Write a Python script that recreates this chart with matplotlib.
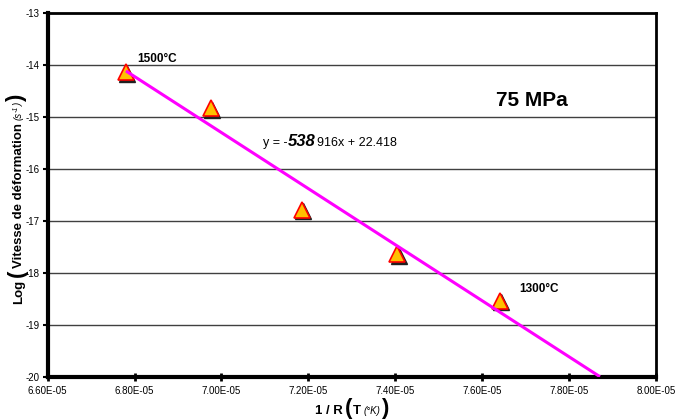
import matplotlib
matplotlib.use("Agg")
import matplotlib.pyplot as plt
import matplotlib.transforms as mtransforms

plt.rcParams['font.family'] = ['Liberation Sans', 'DejaVu Sans']

# ---- data ----
x_vals = [6.78e-5, 6.976e-5, 7.185e-5, 7.405e-5, 7.641e-5]
y_vals = [-14.14, -14.83, -16.79, -17.64, -18.54]
fit_slope = -538916
fit_intercept = 22.418
fit_x = [6.78e-5, 7.871e-5]
x_ticks = [6.6e-5, 6.8e-5, 7.0e-5, 7.2e-5, 7.4e-5, 7.6e-5, 7.8e-5, 8.0e-5]
x_tick_labels = ['6.60E-05', '6.80E-05', '7.00E-05', '7.20E-05',
                 '7.40E-05', '7.60E-05', '7.80E-05', '8.00E-05']
y_ticks = [-13, -14, -15, -16, -17, -18, -19, -20]
y_tick_labels = ['-13', '-14', '-15', '-16', '-17', '-18', '-19', '-20']

W, H = 675, 419
fig = plt.figure(figsize=(W / 100, H / 100), dpi=100)
fig.patch.set_facecolor('white')
L, R, T, B = 47.7, 656.0, 12.7, 376.7
ax = fig.add_axes([L / W, 1 - B / H, (R - L) / W, (B - T) / H])
ax.set_xlim(6.6e-5, 8.0e-5)
ax.set_ylim(-20, -13)

ax.set_yticks(y_ticks)
ax.set_yticklabels(y_tick_labels)
ax.set_xticks(x_ticks)
ax.set_xticklabels(x_tick_labels)
ax.tick_params(axis='y', direction='out', length=3.6, width=1.5, pad=2, labelsize=7)
ax.tick_params(axis='x', direction='inout', length=5.8, width=2, pad=4, labelsize=7)

for yv in y_ticks[1:-1]:
    ax.axhline(yv, color='#404040', lw=1.0, zorder=1)

for side in ['left', 'bottom']:
    ax.spines[side].set_linewidth(3)
for side in ['top', 'right']:
    ax.spines[side].set_linewidth(2)

# markers with shadow
shadow = ax.transData + mtransforms.ScaledTranslation(1.0 / 72, -1.2 / 72, fig.dpi_scale_trans)
ax.plot(x_vals, y_vals, ls='none', marker='^', ms=12, mfc='#202020', mec='#202020',
        mew=1, transform=shadow, zorder=2)
ax.plot(x_vals, y_vals, ls='none', marker='^', ms=12, mfc='#FFC000', mec='#FF0000',
        mew=1.2, zorder=3)

fit_y = [fit_slope * xv + fit_intercept for xv in fit_x]
ax.plot(fit_x, fit_y, color='#FF00FF', lw=2.2, zorder=4, solid_capstyle='butt')

ax.text(6.806e-5, -13.95, '1500°C', fontsize=8.5, fontweight='bold', ha='left', va='baseline')
ax.text(7.685e-5, -18.38, '1300°C', fontsize=8.5, fontweight='bold', ha='left', va='baseline')
ax.text(7.714e-5, -14.79, '75 MPa', fontsize=15, fontweight='bold', ha='center', va='baseline')

renderer = fig.canvas.get_renderer()
ident = mtransforms.IdentityTransform()


def seq_h(pieces, x0, base_y, center=False):
    objs = []
    total = 0
    for p in pieces:
        if isinstance(p, (int, float)):
            objs.append((None, p, 0))
            total += p
            continue
        s, kw, dy = p
        t = fig.text(0, 0, s, transform=ident, ha='left', va='baseline', **kw)
        w = t.get_window_extent(renderer).width
        objs.append((t, w, dy))
        total += w
    x = x0 - total / 2 if center else x0
    for t, w, dy in objs:
        if t is not None:
            t.set_position((x, base_y + dy))
        x += w


def seq_v(pieces, base_x, cy):
    objs = []
    total = 0
    for p in pieces:
        if isinstance(p, (int, float)):
            objs.append((None, p, 0))
            total += p
            continue
        s, kw, dy = p
        t = fig.text(0, 0, s, transform=ident, ha='left', va='baseline',
                     rotation=90, rotation_mode='anchor', **kw)
        h = t.get_window_extent(renderer).height
        objs.append((t, h, dy))
        total += h
    y = cy - total / 2
    for t, h, dy in objs:
        if t is not None:
            t.set_position((base_x - dy, y))
        y += h


# equation
ex, ey = ax.transData.transform((7.0955e-5, -15.56))
seq_h([
    ('y = -', dict(fontsize=9), 0),
    ('538', dict(fontsize=12, fontweight='bold', fontstyle='italic'), 0),
    2,
    ('916x + 22.418', dict(fontsize=9), 0),
], ex, ey)

bold = dict(fontsize=9.5, fontweight='bold')
paren = dict(fontsize=16, fontweight='bold')
small_it = dict(fontsize=7, fontstyle='italic')
sup = dict(fontsize=5, fontstyle='italic')

# x label
seq_h([
    ('1 / R', bold, 0), 2,
    ('(', paren, 0.5), 1,
    ('T', bold, 0), 2,
    ('(°K)', small_it, 0), 1,
    (')', paren, 0.5),
], (L + R) / 2, H - 414, center=True)

# y label
seq_v([
    ('Log', bold, 0), 3,
    ('(', paren, -0.5), 1,
    ('Vitesse de déformation', bold, 0), 3,
    ('(s', small_it, 0),
    ('-1', sup, 4),
    (')', small_it, 0), 1,
    (')', paren, -0.5),
], 22, H - 199)

fig.savefig('out.png', dpi=100, facecolor='white')
